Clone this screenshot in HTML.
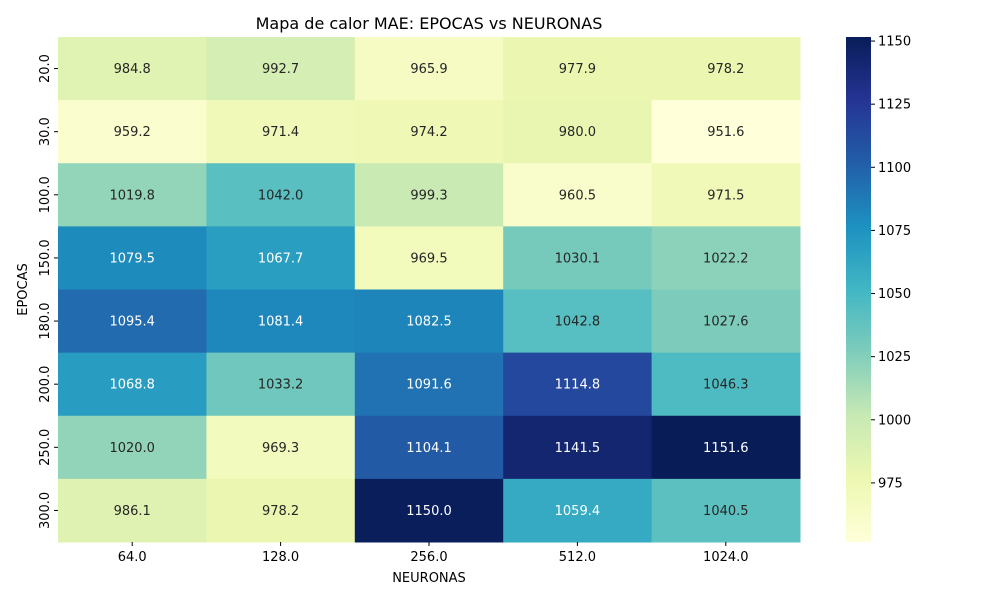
<!DOCTYPE html>
<html><head><meta charset="utf-8"><style>body{margin:0;background:#fff}svg{font-family:"DejaVu Sans","Liberation Sans",sans-serif}</style></head>
<body>
<svg id="c" width="1000" height="600"></svg>
<script>
const rows=["20.0","30.0","100.0","150.0","180.0","200.0","250.0","300.0"];
const cols=["64.0","128.0","256.0","512.0","1024.0"];
const values=[
[984.8,992.7,965.9,977.9,978.2],
[959.2,971.4,974.2,980.0,951.6],
[1019.8,1042.0,999.3,960.5,971.5],
[1079.5,1067.7,969.5,1030.1,1022.2],
[1095.4,1081.4,1082.5,1042.8,1027.6],
[1068.8,1033.2,1091.6,1114.8,1046.3],
[1020.0,969.3,1104.1,1141.5,1151.6],
[986.1,978.2,1150.0,1059.4,1040.5]];
const cbTicks=[975,1000,1025,1050,1075,1100,1125,1150];
const stops=["#ffffd9","#edf8b1","#c7e9b4","#7fcdbb","#41b6c4","#1d91c0","#225ea8","#253494","#081d58"];
const flat=values.flat(),vmin=Math.min(...flat),vmax=Math.max(...flat);
const X0=58,X1=800,Y0=37,Y1=542,cw=(X1-X0)/cols.length,rh=(Y1-Y0)/rows.length;
const CBX=846,CBW=25;
function hex(h){return [1,3,5].map(i=>parseInt(h.substr(i,2),16));}
function color(v){let t=Math.max(0,Math.min(1,(v-vmin)/(vmax-vmin)))*(stops.length-1);let i=Math.min(Math.floor(t),stops.length-2),f=t-i;const a=hex(stops[i]),b=hex(stops[i+1]);return `rgb(${a.map((x,k)=>Math.round(x+(b[k]-x)*f)).join(",")})`;}
function lum(v){const m=color(v).match(/\d+/g).map(Number).map(c=>{c/=255;return c<=0.03928?c/12.92:Math.pow((c+0.055)/1.055,2.4)});return 0.2126*m[0]+0.7152*m[1]+0.0722*m[2];}
const cby=v=>Y1-(v-vmin)/(vmax-vmin)*(Y1-Y0);
const svg=document.getElementById('c');const NS="http://www.w3.org/2000/svg";
function el(t,a,p){const e=document.createElementNS(NS,t);for(const k in a)e.setAttribute(k,a[k]);(p||svg).appendChild(e);return e;}
function txt(s,a,p){const e=el('text',a,p);e.textContent=s;return e;}
const t=txt("Mapa de calor MAE: EPOCAS vs NEURONAS",{x:429,y:29,'text-anchor':'middle','font-size':16,fill:'#000'});

values.forEach((r,i)=>r.forEach((v,j)=>{
 const g=el('g',{});
 
 el('rect',{x:X0+j*cw,y:Y0+i*rh,width:cw+0.5,height:rh+0.5,fill:color(v)},g);
 txt(v.toFixed(1),{x:X0+(j+0.5)*cw,y:Y0+(i+0.5)*rh+4.5,'text-anchor':'middle','font-size':13,fill:lum(v)<0.408?'#fff':'#262626'},g);
}));
cols.forEach((c,j)=>{const x=X0+(j+0.5)*cw;el('line',{x1:x,x2:x,y1:Y1,y2:Y1+4,stroke:'#000'});const l=txt(c,{x:x,y:Y1+19,'text-anchor':'middle','font-size':13});});
rows.forEach((r,i)=>{const y=Y0+(i+0.5)*rh;el('line',{x1:X0-4,x2:X0,y1:y,y2:y,stroke:'#000'});const l=txt(r,{x:0,y:0,'text-anchor':'middle','font-size':13,transform:`translate(${X0-9},${y}) rotate(-90)`});});
const xt=txt("NEURONAS",{x:429,y:582,'text-anchor':'middle','font-size':13});
const yt=txt("EPOCAS",{x:0,y:0,'text-anchor':'middle','font-size':13,transform:`translate(27,${(Y0+Y1)/2}) rotate(-90)`});
const defs=el('defs',{});const lg=el('linearGradient',{id:'cb',x1:0,y1:1,x2:0,y2:0},defs);
stops.forEach((s,i)=>el('stop',{offset:i/(stops.length-1),'stop-color':s},lg));
const cb=el('rect',{x:CBX,y:Y0,width:CBW,height:Y1-Y0,fill:'url(#cb)'});
cbTicks.forEach(v=>{const y=cby(v);el('line',{x1:CBX+CBW,x2:CBX+CBW+4,y1:y,y2:y,stroke:'#000'});const l=txt(String(v),{x:CBX+CBW+7,y:y+4.5,'font-size':13});});
</script>
</body></html>
